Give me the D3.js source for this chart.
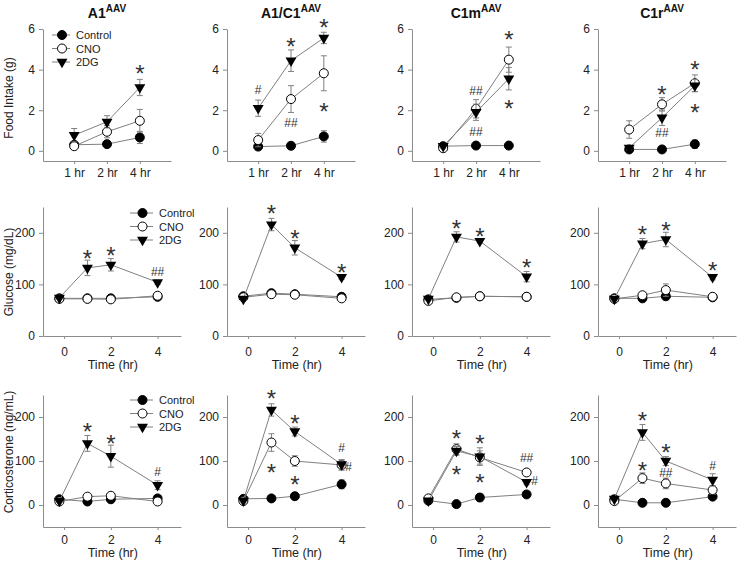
<!DOCTYPE html>
<html>
<head>
<meta charset="utf-8">
<script src="https://cdn.jsdelivr.net/npm/d3@7"></script>
<style>
  body { margin: 0; background: #fff; }
  svg { font-family: "Liberation Sans", Arial, sans-serif; }
  .axis path, .axis line { stroke: #8c8c8c; }
  .axis text { fill: #222; font-size: 12px; }
</style>
</head>
<body>
<script>
// ---- data ----
const panels = ["A1", "A1/C1", "C1m", "C1r"];
const groups = ["Control", "CNO", "2DG"];
const foodHours = ["1 hr", "2 hr", "4 hr"];
const times = [-0.2, 1, 2, 4];
const timeTicks = [0, 2, 4];

// food intake (g), one array per panel
const foodControl = [[0.3, 0.33, 0.66], [0.21, 0.25, 0.71], [0.23, 0.26, 0.26], [0.07, 0.07, 0.33]];
const foodControlErr = [[0.1, 0.12, 0.3], [0.08, 0.06, 0.28], [0.06, 0.05, 0.05], [0.12, 0.05, 0.2]];
const foodCNO = [[0.23, 0.94, 1.48], [0.53, 2.55, 3.82], [0.13, 2.07, 4.49], [1.05, 2.29, 3.33]];
const foodCNOErr = [[0.1, 0.3, 0.56], [0.33, 0.66, 0.86], [0.08, 0.45, 0.62], [0.43, 0.33, 0.41]];
const food2DG = [[0.77, 1.43, 3.12], [2.1, 4.44, 5.56], [0.23, 1.9, 3.55], [0.15, 1.63, 3.21]];
const food2DGErr = [[0.33, 0.3, 0.4], [0.4, 0.53, 0.28], [0.1, 0.4, 0.55], [0.1, 0.38, 0.3]];

// glucose (mg/dL)
const gluControl = [[73, 73, 73, 76], [77, 83, 81, 76], [71, 74, 77, 76], [73, 73, 77, 75]];
const gluControlErr = [[3, 3, 3, 3], [3, 3, 3, 3], [3, 3, 3, 3], [3, 3, 3, 3]];
const gluCNO = [[72, 72, 71, 78], [75, 81, 80, 73], [68, 75, 77, 76], [72, 79, 89, 76]];
const gluCNOErr = [[3, 3, 3, 4], [3, 3, 3, 3], [3, 3, 3, 3], [3, 4, 12, 4]];
const glu2DG = [[74, 132, 138, 104], [72, 216, 171, 114], [72, 192, 184, 115], [72, 179, 187, 114]];
const glu2DGErr = [[3, 15, 12, 4], [3, 12, 14, 4], [3, 10, 4, 10], [3, 10, 14, 5]];

// corticosterone (ng/mL)
const cortControl = [[13, 8, 13, 15], [14, 15, 20, 47], [10, 2, 17, 24], [13, 5, 5, 19]];
const cortControlErr = [[3, 3, 4, 4], [3, 3, 4, 10], [3, 3, 8, 6], [3, 2, 2, 4]];
const cortCNO = [[8, 19, 21, 8], [9, 142, 100, 91], [15, 127, 108, 74], [9, 61, 49, 34]];
const cortCNOErr = [[3, 5, 5, 3], [4, 20, 12, 12], [4, 12, 15, 6], [4, 12, 12, 10]];
const cort2DG = [[9, 140, 111, 45], [10, 216, 167, 92], [10, 123, 110, 52], [14, 165, 100, 57]];
const cort2DGErr = [[3, 18, 25, 10], [4, 14, 10, 10], [3, 10, 20, 6], [4, 18, 10, 14]];

// significance marks: [x, y, label]
const foodMarks = [
  [["4 hr", 4.1, "*"]],
  [["1 hr", 3.0, "#"], ["2 hr", 5.47, "*"], ["4 hr", 6.4, "*"], ["2 hr", 1.38, "##"], ["4 hr", 2.27, "*"]],
  [["2 hr", 2.95, "##"], ["2 hr", 0.94, "##"], ["4 hr", 5.8, "*"], ["4 hr", 2.41, "*"]],
  [["2 hr", 3.1, "*"], ["2 hr", 0.89, "##"], ["4 hr", 4.33, "*"], ["4 hr", 2.2, "*"]]
];
const gluMarks = [
  [[1, 163, "*"], [2, 169, "*"], [4, 124, "##"]],
  [[1, 249, "*"], [2, 202, "*"], [4, 136, "*"]],
  [[1, 221, "*"], [2, 206, "*"], [4, 146, "*"]],
  [[1, 210, "*"], [2, 217, "*"], [4, 140, "*"]]
];
const cortMarks = [
  [[1, 182, "*"], [2, 155, "*"], [4, 75, "#"]],
  [[1, 257, "*"], [2, 200, "*"], [4, 130, "#"], [1, 89, "*"], [2, 61, "*"], [4.3, 86, "#"]],
  [[1, 166, "*"], [2, 155, "*"], [4, 107, "##"], [1, 84, "*"], [2, 66, "*"], [4.34, 55, "#"]],
  [[1, 207, "*"], [2, 134, "*"], [4, 89, "#"], [1, 93, "*"], [2, 73, "##"]]
];

// ---- layout ----
const colX = [43, 227, 412, 598];
const lineGray = "#808080";

const rows = [
  { top: 29, bottom: 161, width: 128, yDomain: [-0.5, 6], yTicks: [0, 2, 4, 6], food: true,
    means: [foodControl, foodCNO, food2DG], errs: [foodControlErr, foodCNOErr, food2DGErr],
    marks: foodMarks, label: "Food Intake (g)", labelY: 98, gap: 7,
    legend: { x: 52, y: 35, len: 18 } },
  { top: 207, bottom: 336, width: 138, yDomain: [0, 250], yTicks: [0, 100, 200],
    means: [gluControl, gluCNO, glu2DG], errs: [gluControlErr, gluCNOErr, glu2DGErr],
    marks: gluMarks, label: "Glucose (mg/dL)", labelY: 272, gap: 11, timeY: 365,
    legend: { x: 130, y: 213, len: 23 } },
  { top: 395, bottom: 527, width: 138, yDomain: [-50, 250], yTicks: [0, 100, 200],
    means: [cortControl, cortCNO, cort2DG], errs: [cortControlErr, cortCNOErr, cort2DGErr],
    marks: cortMarks, label: "Corticosterone (ng/mL)", labelY: 452, gap: 8, timeY: 553,
    legend: { x: 130, y: 400, len: 23 } }
];

const svg = d3.select("body").append("svg")
    .attr("width", 739)
    .attr("height", 561);

const triangle = d3.symbol().type(d3.symbolTriangle).size(52);

function drawMarker(sel, gi){
    if(gi == 2){
        return sel.append("path")
            .attr("d", triangle)
            .attr("transform", d => "translate(" + d[0] + "," + d[1] + ") rotate(180)")
            .attr("fill", "#000");
    }
    return sel.append("circle")
        .attr("cx", d => d[0])
        .attr("cy", d => d[1])
        .attr("r", 4.5)
        .attr("fill", gi == 0 ? "#000" : "#fff")
        .attr("stroke", "#000")
        .attr("stroke-width", 1);
}

// titles
panels.forEach((p, i) => {
    let t = svg.append("text")
        .attr("x", colX[i] + 64)
        .attr("y", 18)
        .attr("text-anchor", "middle")
        .attr("font-size", 14)
        .attr("font-weight", "bold")
        .attr("fill", "#111");
    t.append("tspan").text(p);
    t.append("tspan").attr("font-size", 10).attr("dy", -6).text("AAV");
});

rows.forEach((row, ri) => {
    // y label
    svg.append("text")
        .attr("transform", "translate(9," + row.labelY + ") rotate(-90)")
        .attr("text-anchor", "middle")
        .attr("dominant-baseline", "central")
        .attr("font-size", 12)
        .attr("fill", "#222")
        .text(row.label);

    panels.forEach((p, pi) => {
        let x0 = colX[pi];
        let x = row.food
            ? d3.scalePoint().domain(foodHours).range([x0, x0 + row.width]).padding(0.95)
            : d3.scaleLinear().domain([-0.9, 5]).range([x0, x0 + row.width]);
        let y = d3.scaleLinear().domain(row.yDomain).range([row.bottom, row.top]);
        let xs = row.food ? foodHours : times;

        let g = svg.append("g");

        g.append("g")
            .attr("class", "axis")
            .attr("transform", "translate(" + x0 + ",0)")
            .call(d3.axisLeft(y).tickValues(row.yTicks).tickFormat(d3.format("d"))
                .tickSize(4).tickPadding(4).tickSizeOuter(0));

        let xAxis = d3.axisBottom(x).tickSize(3).tickPadding(row.gap - 3).tickSizeOuter(0);
        if(!row.food) xAxis.tickValues(timeTicks).tickFormat(d3.format("d"));
        g.append("g")
            .attr("class", "axis")
            .attr("transform", "translate(0," + row.bottom + ")")
            .call(xAxis);

        if(row.timeY){
            g.append("text")
                .attr("x", (x(0) + x(4)) / 2 + 2)
                .attr("y", row.timeY)
                .attr("text-anchor", "middle")
                .attr("dominant-baseline", "central")
                .attr("font-size", 12.5)
                .attr("fill", "#222")
                .text("Time (hr)");
        }

        let line = d3.line().x(d => d[0]).y(d => d[1]);

        groups.forEach((grp, gi) => {
            let m = row.means[gi][pi];
            let e = row.errs[gi][pi];
            let pts = xs.map((t, k) => [x(t), y(m[k]), y(m[k] - e[k]), y(m[k] + e[k])]);

            g.append("path")
                .attr("d", line(pts))
                .attr("fill", "none")
                .attr("stroke", lineGray)
                .attr("stroke-width", 1);

            let bars = g.append("g")
                .attr("stroke", lineGray)
                .attr("stroke-width", 1)
                .selectAll("g").data(pts).enter().append("g");
            bars.append("line")
                .attr("x1", d => d[0]).attr("x2", d => d[0])
                .attr("y1", d => d[2]).attr("y2", d => d[3]);
            bars.append("line")
                .attr("x1", d => d[0] - 3).attr("x2", d => d[0] + 3)
                .attr("y1", d => d[3]).attr("y2", d => d[3]);
            bars.append("line")
                .attr("x1", d => d[0] - 3).attr("x2", d => d[0] + 3)
                .attr("y1", d => d[2]).attr("y2", d => d[2]);

            drawMarker(g.append("g").selectAll("g").data(pts).enter(), gi);
        });

        // significance marks
        g.selectAll(".sig")
            .data(row.marks[pi])
            .enter().append("text")
            .attr("class", "sig")
            .attr("x", d => x(d[0]))
            .attr("y", d => y(d[1]))
            .attr("dy", d => d[2] == "*" ? "0.62em" : "0.36em")
            .attr("text-anchor", "middle")
            .attr("font-size", d => d[2] == "*" ? 24 : 12)
            .attr("fill", "#333")
            .text(d => d[2]);
    });

    // legend in the first panel
    let lg = row.legend;
    groups.forEach((grp, gi) => {
        let ly = lg.y + gi * 13.5;
        svg.append("line")
            .attr("x1", lg.x).attr("x2", lg.x + lg.len)
            .attr("y1", ly).attr("y2", ly)
            .attr("stroke", lineGray);
        drawMarker(svg.append("g").selectAll("g").data([[lg.x + lg.len / 2 + 1, ly]]).enter(), gi);
        svg.append("text")
            .attr("x", lg.x + lg.len + 6)
            .attr("y", ly)
            .attr("dominant-baseline", "central")
            .attr("font-size", 11)
            .attr("fill", "#222")
            .text(grp);
    });
});
</script>
</body>
</html>
